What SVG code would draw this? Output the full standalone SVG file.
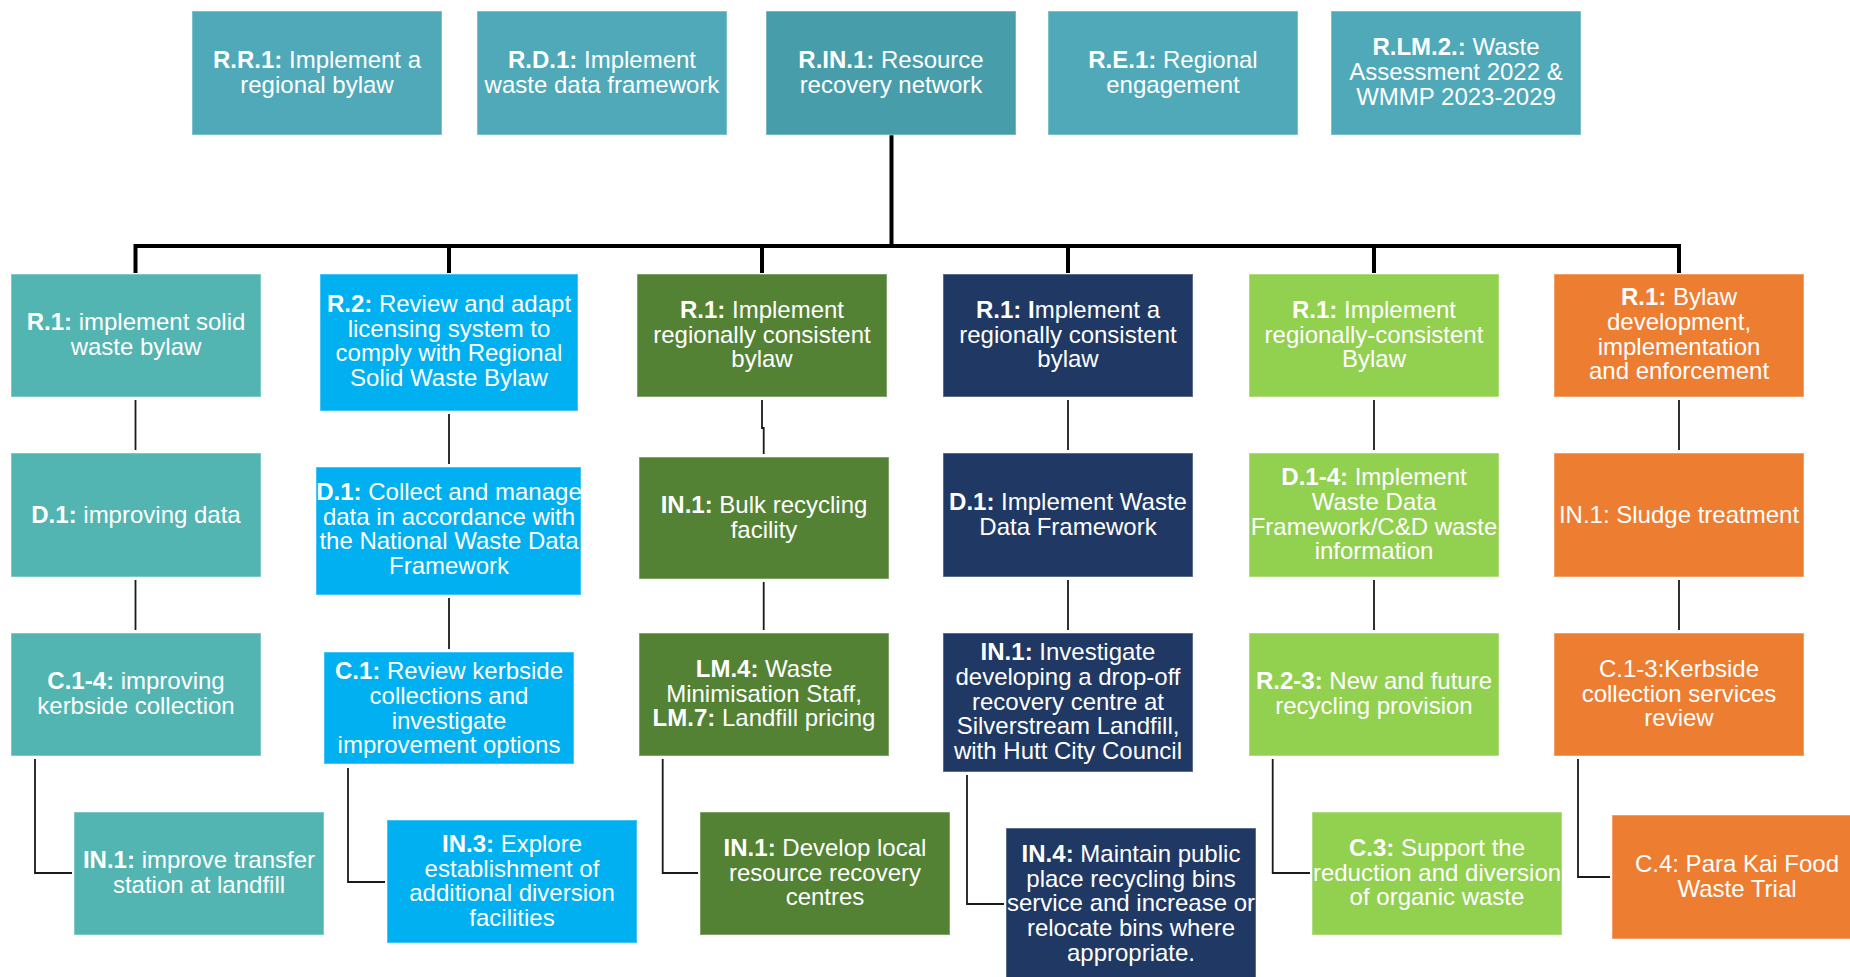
<svg xmlns="http://www.w3.org/2000/svg" width="1850" height="977" viewBox="0 0 1850 977">
<style>
text{font-family:"Liberation Sans",Arial,sans-serif;font-size:24px;fill:#fff;text-anchor:middle;transform:translate(0px,-1px)}
.b{font-weight:bold}
rect{stroke:#fff;stroke-opacity:.35;stroke-width:1.5}
.top{fill:#4FA9B9}.topd{fill:#479DAA}
.c1{fill:#52B5B2}.c2{fill:#00B0F0}.c3{fill:#548235}.c4{fill:#203864}.c5{fill:#92D050}.c6{fill:#ED7D31}
.thick{stroke:#000;stroke-width:4;fill:none;stroke-linecap:square}
.thin{stroke:#1a1a1a;stroke-width:1.8;fill:none}
</style>
<rect width="1850" height="977" fill="#fff" stroke="none"/>
<g id="connectors">
<path class="thick" d="M891.5,137 V246 M135.5,246 H1679 M135.5,246 V271 M449,246 V271 M762,246 V271 M1068,246 V271 M1374,246 V271 M1679,246 V271"/>
<path class="thin" d="M135.5,400 V450 M135.5,580 V630 M35,759 V873 H72"/>
<path class="thin" d="M449,414 V464 M449,598 V649 M348,768 V882 H385"/>
<path class="thin" d="M762,400 V428 H763.7 V454 M763.7,582 V630 M662.7,759 V873 H698"/>
<path class="thin" d="M1068,400 V450 M1068,580 V630 M967,775 V904 H1004"/>
<path class="thin" d="M1374,400 V450 M1374,580 V630 M1272.7,759 V873 H1310"/>
<path class="thin" d="M1679,400 V450 M1679,580 V630 M1578,759 V877 H1610"/>
</g>
<g id="RR1"><rect class="top" x="192" y="11" width="250" height="124"/><text x="317" y="69"><tspan class="b">R.R.1:</tspan> Implement a</text><text x="317" y="94">regional bylaw</text></g>
<g id="RD1"><rect class="top" x="477" y="11" width="250" height="124"/><text x="602" y="69"><tspan class="b">R.D.1:</tspan> Implement</text><text x="602" y="94">waste data framework</text></g>
<g id="RIN1"><rect class="topd" x="766" y="11" width="250" height="124"/><text x="891" y="69"><tspan class="b">R.IN.1:</tspan> Resource</text><text x="891" y="94">recovery network</text></g>
<g id="RE1"><rect class="top" x="1048" y="11" width="250" height="124"/><text x="1173" y="69"><tspan class="b">R.E.1:</tspan> Regional</text><text x="1173" y="94">engagement</text></g>
<g id="RLM2"><rect class="top" x="1331" y="11" width="250" height="124"/><text x="1456" y="56"><tspan class="b">R.LM.2.:</tspan> Waste</text><text x="1456" y="81">Assessment 2022 &amp;</text><text x="1456" y="106">WMMP 2023-2029</text></g>

<g id="c1r1"><rect class="c1" x="11" y="274" width="250" height="123"/><text x="136" y="331"><tspan class="b">R.1:</tspan> implement solid</text><text x="136" y="356">waste bylaw</text></g>
<g id="c1d1"><rect class="c1" x="11" y="453" width="250" height="124"/><text x="136" y="524"><tspan class="b">D.1:</tspan> improving data</text></g>
<g id="c1c14"><rect class="c1" x="11" y="633" width="250" height="123"/><text x="136" y="690"><tspan class="b">C.1-4:</tspan> improving</text><text x="136" y="715">kerbside collection</text></g>
<g id="c1in1"><rect class="c1" x="74" y="812" width="250" height="123"/><text x="199" y="869"><tspan class="b">IN.1:</tspan> improve transfer</text><text x="199" y="894">station at landfill</text></g>

<g id="c2r2"><rect class="c2" x="320" y="274" width="258" height="137"/><text x="449" y="313"><tspan class="b">R.2:</tspan> Review and adapt</text><text x="449" y="338">licensing system to</text><text x="449" y="362">comply with Regional</text><text x="449" y="387">Solid Waste Bylaw</text></g>
<g id="c2d1"><rect class="c2" x="316" y="467" width="265" height="128"/><text x="449" y="501"><tspan class="b">D.1:</tspan> Collect and manage</text><text x="449" y="526">data in accordance with</text><text x="449" y="550">the National Waste Data</text><text x="449" y="575">Framework</text></g>
<g id="c2c1"><rect class="c2" x="324" y="652" width="250" height="112"/><text x="449" y="680"><tspan class="b">C.1:</tspan> Review kerbside</text><text x="449" y="705">collections and</text><text x="449" y="730">investigate</text><text x="449" y="754">improvement options</text></g>
<g id="c2in3"><rect class="c2" x="387" y="820" width="250" height="123"/><text x="512" y="853"><tspan class="b">IN.3:</tspan> Explore</text><text x="512" y="878">establishment of</text><text x="512" y="902">additional diversion</text><text x="512" y="927">facilities</text></g>

<g id="c3r1"><rect class="c3" x="637" y="274" width="250" height="123"/><text x="762" y="319"><tspan class="b">R.1:</tspan> Implement</text><text x="762" y="344">regionally consistent</text><text x="762" y="368">bylaw</text></g>
<g id="c3in1"><rect class="c3" x="639" y="457" width="250" height="122"/><text x="764" y="514"><tspan class="b">IN.1:</tspan> Bulk recycling</text><text x="764" y="539">facility</text></g>
<g id="c3lm4"><rect class="c3" x="639" y="633" width="250" height="123"/><text x="764" y="678"><tspan class="b">LM.4:</tspan> Waste</text><text x="764" y="703">Minimisation Staff,</text><text x="764" y="727"><tspan class="b">LM.7:</tspan> Landfill pricing</text></g>
<g id="c3in1b"><rect class="c3" x="700" y="812" width="250" height="123"/><text x="825" y="857"><tspan class="b">IN.1:</tspan> Develop local</text><text x="825" y="882">resource recovery</text><text x="825" y="906">centres</text></g>

<g id="c4r1"><rect class="c4" x="943" y="274" width="250" height="123"/><text x="1068" y="319"><tspan class="b">R.1: I</tspan>mplement a</text><text x="1068" y="344">regionally consistent</text><text x="1068" y="368">bylaw</text></g>
<g id="c4d1"><rect class="c4" x="943" y="453" width="250" height="124"/><text x="1068" y="511"><tspan class="b">D.1:</tspan> Implement Waste</text><text x="1068" y="536">Data Framework</text></g>
<g id="c4in1"><rect class="c4" x="943" y="633" width="250" height="139"/><text x="1068" y="661"><tspan class="b">IN.1:</tspan> Investigate</text><text x="1068" y="686">developing a drop-off</text><text x="1068" y="711">recovery centre at</text><text x="1068" y="735">Silverstream Landfill,</text><text x="1068" y="760">with Hutt City Council</text></g>
<g id="c4in4"><rect class="c4" x="1006" y="828" width="250" height="152"/><text x="1131" y="863"><tspan class="b">IN.4:</tspan> Maintain public</text><text x="1131" y="888">place recycling bins</text><text x="1131" y="912">service and increase or</text><text x="1131" y="937">relocate bins where</text><text x="1131" y="962">appropriate.</text></g>

<g id="c5r1"><rect class="c5" x="1249" y="274" width="250" height="123"/><text x="1374" y="319"><tspan class="b">R.1:</tspan> Implement</text><text x="1374" y="344">regionally-consistent</text><text x="1374" y="368">Bylaw</text></g>
<g id="c5d14"><rect class="c5" x="1249" y="453" width="250" height="124"/><text x="1374" y="486"><tspan class="b">D.1-4:</tspan> Implement</text><text x="1374" y="511">Waste Data</text><text x="1374" y="536">Framework/C&amp;D waste</text><text x="1374" y="560">information</text></g>
<g id="c5r23"><rect class="c5" x="1249" y="633" width="250" height="123"/><text x="1374" y="690"><tspan class="b">R.2-3:</tspan> New and future</text><text x="1374" y="715">recycling provision</text></g>
<g id="c5c3"><rect class="c5" x="1312" y="812" width="250" height="123"/><text x="1437" y="857"><tspan class="b">C.3:</tspan> Support the</text><text x="1437" y="882">reduction and diversion</text><text x="1437" y="906">of organic waste</text></g>

<g id="c6r1"><rect class="c6" x="1554" y="274" width="250" height="123"/><text x="1679" y="306"><tspan class="b">R.1:</tspan> Bylaw</text><text x="1679" y="331">development,</text><text x="1679" y="356">implementation</text><text x="1679" y="380">and enforcement</text></g>
<g id="c6in1"><rect class="c6" x="1554" y="453" width="250" height="124"/><text x="1679" y="524">IN.1: Sludge treatment</text></g>
<g id="c6c13"><rect class="c6" x="1554" y="633" width="250" height="123"/><text x="1679" y="678">C.1-3:Kerbside</text><text x="1679" y="703">collection services</text><text x="1679" y="727">review</text></g>
<g id="c6c4"><rect class="c6" x="1612" y="815" width="250" height="124"/><text x="1737" y="873">C.4: Para Kai Food</text><text x="1737" y="898">Waste Trial</text></g>
</svg>
